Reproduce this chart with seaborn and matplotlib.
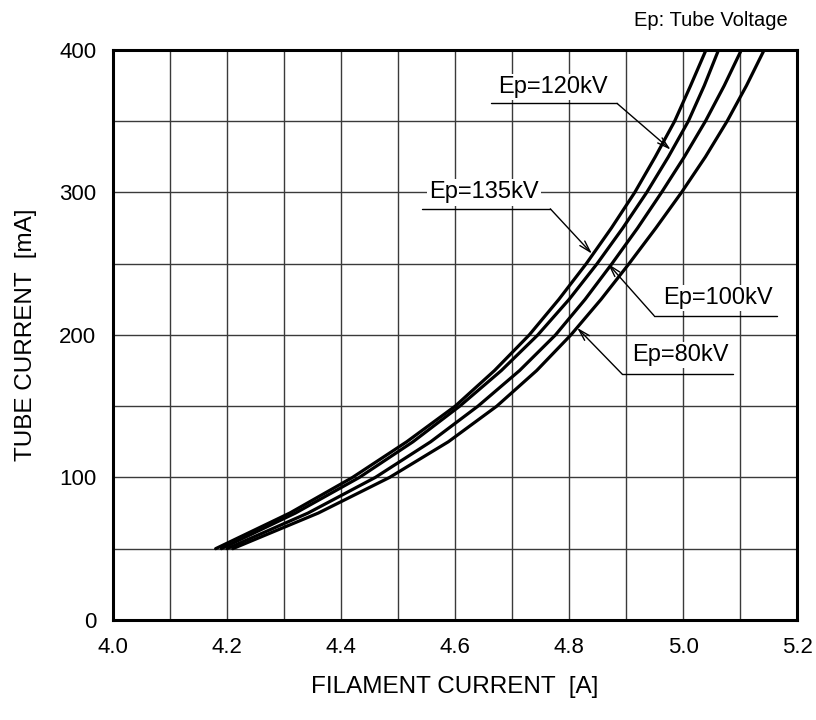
import matplotlib
matplotlib.use("Agg")
import matplotlib.pyplot as plt
import seaborn as sns
import pandas as pd
import numpy as np

# ---- data ----
current_levels = [50, 75, 100, 125, 150, 175, 200, 225, 250, 275, 300, 325, 350, 375, 400]

f_135 = [4.180, 4.310, 4.420, 4.515, 4.600, 4.669, 4.730, 4.782, 4.830, 4.874,
         4.915, 4.951, 4.985, 5.013, 5.040]
f_120 = [4.190, 4.320, 4.432, 4.526, 4.608, 4.681, 4.745, 4.800, 4.849, 4.894,
         4.936, 4.974, 5.009, 5.037, 5.062]
f_100 = [4.200, 4.342, 4.460, 4.557, 4.640, 4.713, 4.776, 4.828, 4.875, 4.920,
         4.962, 5.002, 5.039, 5.072, 5.102]
f_80 = [4.210, 4.360, 4.485, 4.588, 4.673, 4.743, 4.803, 4.856, 4.905, 4.952,
        4.997, 5.039, 5.077, 5.111, 5.142]

series_names = ["Ep=135kV", "Ep=120kV", "Ep=100kV", "Ep=80kV"]

x_ticks = [4.0, 4.2, 4.4, 4.6, 4.8, 5.0, 5.2]
x_tick_labels = ["4.0", "4.2", "4.4", "4.6", "4.8", "5.0", "5.2"]
y_ticks = [0, 100, 200, 300, 400]
y_tick_labels = ["0", "100", "200", "300", "400"]

x_label = "FILAMENT CURRENT  [A]"
y_label = "TUBE CURRENT  [mA]"
note = "Ep: Tube Voltage"

rows = []
for name, fs in zip(series_names, [f_135, f_120, f_100, f_80]):
    for k, (f, c) in enumerate(zip(fs, current_levels)):
        rows.append({"series": name, "order": k, "filament": f, "current": c})
df = pd.DataFrame(rows)

sns.set_theme(style="white")
plt.rcParams["font.family"] = ["Liberation Sans", "DejaVu Sans"]

fig = plt.figure(figsize=(8.16, 7.20), dpi=100)
ax = fig.add_axes([0.1385, 0.139, 0.8385, 0.7916])

sns.lineplot(data=df, x="filament", y="current", hue="series", units="series",
             estimator=None, sort=False, palette=["black"] * 4,
             linewidth=2.3, legend=False, ax=ax, zorder=3)

ax.set_xlim(4.0, 5.2)
ax.set_ylim(0, 400)
ax.set_xticks(x_ticks)
ax.set_xticklabels(x_tick_labels)
ax.set_yticks(y_ticks)
ax.set_yticklabels(y_tick_labels)
ax.set_xticks(np.arange(4.1, 5.2, 0.2), minor=True)
ax.set_yticks([50, 150, 250, 350], minor=True)
ax.grid(True, which="both", color="#3a3a3a", linewidth=1.0, zorder=1)
ax.tick_params(which="both", length=0, labelsize=16, pad=12, colors="black")
for sp in ax.spines.values():
    sp.set_color("black")
    sp.set_linewidth(2.2)
    sp.set_zorder(5)

ax.set_xlabel(x_label, fontsize=17.5, labelpad=13, color="black")
ax.set_ylabel(y_label, fontsize=17.5, labelpad=16, color="black")

fig.text(0.965, 0.972, note, ha="right", va="center", fontsize=14.5, color="black")

# ---- callouts ----
bbox = dict(facecolor="white", edgecolor="none", pad=1.5)
callouts = [
    # text, text pos, underline (x0, x1), underline y, arrow tip, arrow start
    ("Ep=120kV", (4.772, 374), (4.663, 4.884), 362.5, (4.978, 330), (4.884, 362.5)),
    ("Ep=135kV", (4.650, 300), (4.542, 4.767), 288.5, (4.840, 257), (4.767, 288.5)),
    ("Ep=100kV", (5.061, 226), (4.949, 5.165), 213.5, (4.868, 250), (4.949, 213.5)),
    ("Ep=80kV", (4.995, 186), (4.893, 5.088), 172.5, (4.814, 205), (4.893, 172.5)),
]
for txt, tpos, (ux0, ux1), uy, tip, start in callouts:
    ax.text(tpos[0], tpos[1], txt, ha="center", va="center", fontsize=17,
            bbox=bbox, zorder=4, color="black")
    ax.plot([ux0, ux1], [uy, uy], color="black", lw=1.0, zorder=4)
    ax.annotate("", xy=tip, xytext=start, arrowprops=dict(
        arrowstyle="->,head_length=0.7,head_width=0.2", color="black",
        lw=1.0, shrinkA=0, shrinkB=0), zorder=4)

fig.savefig("out.png", dpi=100)
